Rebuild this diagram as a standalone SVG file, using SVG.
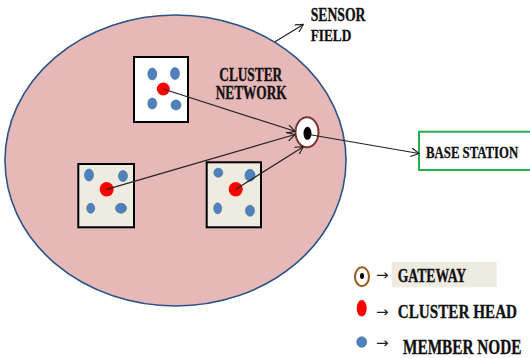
<svg xmlns="http://www.w3.org/2000/svg" width="530" height="358" viewBox="0 0 530 358">
  <defs>
    <marker id="arrow" viewBox="0 0 10 10" refX="9" refY="5" markerWidth="9" markerHeight="9" markerUnits="userSpaceOnUse" orient="auto">
      <path d="M0,0 L9,5 L0,10" fill="none" stroke="#222" stroke-width="1.3"/>
    </marker>
    <style>
      .lbl { font-family: "Liberation Serif", "Times New Roman", serif; font-weight: bold; font-size: 13.3px; fill: #111; stroke: #111; stroke-width: 0.25; }
      .big { font-size: 15.2px; }
      .sym { font-family: "DejaVu Sans", sans-serif; font-size: 15px; fill: #222; }
      .cluster { stroke: #000; stroke-width: 2; }
      .member { fill: #4f81bd; stroke: #3a6a9e; stroke-width: 0.6; }
      .head { fill: #ff0000; }
      .link { stroke: #222; stroke-width: 1.2; fill: none; marker-end: url(#arrow); }
    </style>
  </defs>

  <rect width="530" height="358" fill="#ffffff"/>

  <!-- sensor field -->
  <g id="sensor-field">
    <ellipse cx="175.5" cy="160.5" rx="170.5" ry="145.5" fill="#e6b8b7" stroke="#2b5488" stroke-width="1.6"/>
    <text class="lbl" transform="translate(310.7,20.7) scale(1,1.3)" style="font-size:13.7px">SENSOR</text>
    <text class="lbl" transform="translate(310.7,40.7) scale(1,1.3)">FIELD</text>
  </g>

  <g id="cluster-network-label">
    <text class="lbl" transform="translate(219.3,80.7) scale(1,1.4)">CLUSTER</text>
    <text class="lbl" transform="translate(215.7,99.3) scale(1,1.4)">NETWORK</text>
  </g>

  <!-- cluster 1 (top) -->
  <g id="cluster-1">
    <rect class="cluster" x="134" y="57" width="54" height="65" fill="#ffffff"/>
    <ellipse class="member" cx="152.3" cy="74" rx="4.5" ry="6"/>
    <ellipse class="member" cx="175" cy="73.5" rx="4.5" ry="6"/>
    <ellipse class="member" cx="152.3" cy="103.5" rx="4.5" ry="5.5"/>
    <ellipse class="member" cx="176" cy="105" rx="5" ry="5"/>
    <ellipse class="head" cx="163.3" cy="89" rx="6.5" ry="6.5"/>
  </g>

  <!-- cluster 2 (bottom left) -->
  <g id="cluster-2">
    <rect class="cluster" x="78.3" y="164" width="55.7" height="63.3" fill="#eeece1"/>
    <ellipse class="member" cx="89" cy="175" rx="4.5" ry="6"/>
    <ellipse class="member" cx="123" cy="176" rx="4.5" ry="5.5"/>
    <ellipse class="member" cx="90.7" cy="208.3" rx="4" ry="5"/>
    <ellipse class="member" cx="121" cy="208.3" rx="5.5" ry="5"/>
    <ellipse class="head" cx="106.7" cy="189.3" rx="7" ry="7.2"/>
  </g>

  <!-- cluster 3 (bottom middle) -->
  <g id="cluster-3">
    <rect class="cluster" x="206.7" y="162.3" width="54.3" height="65" fill="#eeece1"/>
    <ellipse class="member" cx="218.3" cy="172.7" rx="4.5" ry="4.5"/>
    <ellipse class="member" cx="250" cy="175.3" rx="5" ry="6"/>
    <ellipse class="member" cx="217.7" cy="208.3" rx="4" ry="5.5"/>
    <ellipse class="member" cx="250" cy="210.7" rx="4.5" ry="5.5"/>
    <ellipse class="head" cx="235.7" cy="189.3" rx="7" ry="7.2"/>
  </g>

  <!-- gateway -->
  <g id="gateway">
    <ellipse cx="307" cy="132.3" rx="11.5" ry="15" fill="#ffffff" stroke="#7b3535" stroke-width="2"/>
    <ellipse cx="307.5" cy="133.3" rx="4" ry="6.5" fill="#000000"/>
  </g>

  <!-- base station -->
  <g id="base-station">
    <rect x="419" y="131.7" width="115" height="38.3" fill="#ffffff" stroke="#22b14c" stroke-width="2"/>
    <text class="lbl" transform="translate(426,158.3) scale(1,1.36)" style="font-size:12.8px">BASE STATION</text>
  </g>

  <!-- connectors -->
  <g id="connectors">
    <line class="link" x1="275" y1="41.7" x2="303.3" y2="24.5"/>
    <line class="link" x1="163.3" y1="89" x2="295" y2="131.3"/>
    <line class="link" x1="106.7" y1="189.3" x2="295" y2="134.5"/>
    <line class="link" x1="235.7" y1="189.3" x2="303.3" y2="146.7"/>
    <line class="link" x1="309" y1="134.5" x2="419" y2="153.5"/>
  </g>

  <!-- legend -->
  <g id="legend">
    <g id="legend-gateway">
      <rect x="391.7" y="261.7" width="105" height="25.6" fill="#eeece1"/>
      <ellipse cx="362" cy="276.7" rx="7" ry="9.5" fill="#ffffff" stroke="#9c5a1a" stroke-width="2"/>
      <ellipse cx="362" cy="276" rx="2" ry="3" fill="#000000"/>
      <text class="sym" x="376" y="280">→</text>
      <text class="lbl" transform="translate(397.7,281.7) scale(1,1.38)" style="font-size:13.7px">GATEWAY</text>
    </g>
    <g id="legend-head">
      <ellipse cx="361.7" cy="308.3" rx="5" ry="8.3" fill="#ff0000"/>
      <text class="sym" x="376" y="316.5">→</text>
      <text class="lbl big" transform="translate(397.7,317.7) scale(1,1.26)">CLUSTER HEAD</text>
    </g>
    <g id="legend-member">
      <ellipse cx="361.7" cy="342" rx="5" ry="5.3" fill="#4f81bd" stroke="#3a6a9e" stroke-width="0.6"/>
      <text class="sym" x="376" y="347.5">→</text>
      <text class="lbl" transform="translate(403,354) scale(1,1.36)" style="font-size:15.3px">MEMBER NODE</text>
    </g>
  </g>
</svg>
